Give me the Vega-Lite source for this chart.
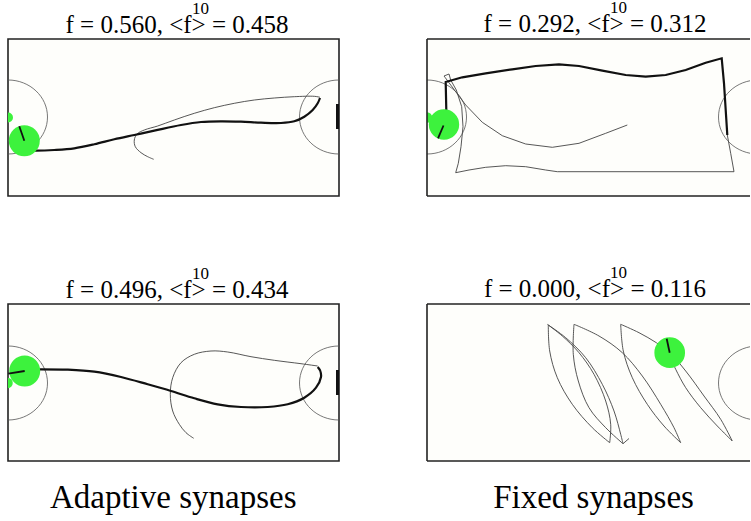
{
  "$schema": "https://vega.github.io/schema/vega-lite/v6.json",
  "padding": {"left": 6, "top": -2, "right": 0, "bottom": 0},
  "background": "white",
  "config": {
    "view": {"stroke": "#222", "strokeWidth": 1.6, "fill": "#fefefb"},
    "title": {"font": "Liberation Serif", "subtitleFont": "Liberation Serif", "color": "black", "subtitleColor": "black", "fontWeight": "normal", "subtitleFontWeight": "normal", "anchor": "middle"}
  },
  "datasets": {
    "arena": [
      {"p": "TL", "x": 0, "y": 78}, {"p": "TL", "x": 331, "y": 78},
      {"p": "TR", "x": 0, "y": 78}, {"p": "TR", "x": 331, "y": 78},
      {"p": "BL", "x": 0, "y": 79}, {"p": "BL", "x": 331, "y": 79},
      {"p": "BR", "x": 331, "y": 79}
    ],
    "agents": [
      {"p": "TL", "k": "big", "x": 16.3, "y": 101.7}, {"p": "TL", "k": "small", "x": 0, "y": 78.5},
      {"p": "TR", "k": "big", "x": 17, "y": 85.5}, {"p": "TR", "k": "small", "x": 0, "y": 78.5},
      {"p": "BL", "k": "big", "x": 16.7, "y": 67}, {"p": "BL", "k": "small", "x": -0.5, "y": 79},
      {"p": "BR", "k": "big", "x": 242.7, "y": 48.7}
    ],
    "heads": [
      {"p": "TL", "x": 11.3, "y": 87.3, "x2": 16.3, "y2": 101.7},
      {"p": "TR", "x": 11, "y": 99.3, "x2": 16.5, "y2": 86.5},
      {"p": "BL", "x": 0.3, "y": 69.7, "x2": 16.7, "y2": 67},
      {"p": "BR", "x": 239.7, "y": 34.7, "x2": 242.7, "y2": 48.7}
    ],
    "targets": [
      {"p": "TL", "x": 329.5, "y": 65, "y2": 90},
      {"p": "BL", "x": 329.5, "y": 66, "y2": 91}
    ],
    "paths": [
      {"p":"TL","t":"thick","x":18,"y":111.5},{"p":"TL","t":"thick","x":28,"y":111.7},{"p":"TL","t":"thick","x":46.3,"y":111},{"p":"TL","t":"thick","x":66.3,"y":109.3},{"p":"TL","t":"thick","x":86.3,"y":105.3},{"p":"TL","t":"thick","x":106.3,"y":100.3},{"p":"TL","t":"thick","x":126.3,"y":96},{"p":"TL","t":"thick","x":146.3,"y":91.7},{"p":"TL","t":"thick","x":173,"y":86},{"p":"TL","t":"thick","x":193,"y":83},{"p":"TL","t":"thick","x":213,"y":82.3},{"p":"TL","t":"thick","x":233,"y":82.7},{"p":"TL","t":"thick","x":253,"y":83.7},{"p":"TL","t":"thick","x":273,"y":84},{"p":"TL","t":"thick","x":286.3,"y":82.3},{"p":"TL","t":"thick","x":296.3,"y":77.7},{"p":"TL","t":"thick","x":304.7,"y":71},{"p":"TL","t":"thick","x":309.7,"y":64.3},{"p":"TL","t":"thick","x":312,"y":59},
      {"p":"TL","t":"thin","x":312,"y":58.3},{"p":"TL","t":"thin","x":306.3,"y":57.3},{"p":"TL","t":"thin","x":286.3,"y":57.7},{"p":"TL","t":"thin","x":266.3,"y":59},{"p":"TL","t":"thin","x":246.3,"y":61},{"p":"TL","t":"thin","x":226.3,"y":64.3},{"p":"TL","t":"thin","x":206.3,"y":68.7},{"p":"TL","t":"thin","x":186.3,"y":74.3},{"p":"TL","t":"thin","x":166.3,"y":81},{"p":"TL","t":"thin","x":149.7,"y":87},{"p":"TL","t":"thin","x":136.3,"y":91},{"p":"TL","t":"thin","x":129,"y":95},{"p":"TL","t":"thin","x":126.3,"y":101},{"p":"TL","t":"thin","x":127.3,"y":107.7},{"p":"TL","t":"thin","x":133,"y":113.7},{"p":"TL","t":"thin","x":139.7,"y":117.7},{"p":"TL","t":"thin","x":145.7,"y":120.3},
      {"p":"TR","t":"thick","x":19.3,"y":80},{"p":"TR","t":"thick","x":19.3,"y":71},{"p":"TR","t":"thick","x":18.7,"y":43},{"p":"TR","t":"thick","x":35.3,"y":38.3},{"p":"TR","t":"thick","x":58.7,"y":34.3},{"p":"TR","t":"thick","x":85.3,"y":30.3},{"p":"TR","t":"thick","x":108.7,"y":27},{"p":"TR","t":"thick","x":132,"y":25.3},{"p":"TR","t":"thick","x":152,"y":27},{"p":"TR","t":"thick","x":175.3,"y":31.7},{"p":"TR","t":"thick","x":198.7,"y":36},{"p":"TR","t":"thick","x":218.7,"y":37.7},{"p":"TR","t":"thick","x":238.7,"y":36},{"p":"TR","t":"thick","x":258.7,"y":31},{"p":"TR","t":"thick","x":278.7,"y":23.7},{"p":"TR","t":"thick","x":294.7,"y":19.3},{"p":"TR","t":"thick","x":297,"y":44.3},{"p":"TR","t":"thick","x":298.7,"y":71},{"p":"TR","t":"thick","x":300.3,"y":96},
      {"p":"TR","t":"thin","x":200.3,"y":86},{"p":"TR","t":"thin","x":178.7,"y":94.3},{"p":"TR","t":"thin","x":152,"y":104.3},{"p":"TR","t":"thin","x":125.3,"y":108.3},{"p":"TR","t":"thin","x":98.7,"y":105},{"p":"TR","t":"thin","x":75.3,"y":96.7},{"p":"TR","t":"thin","x":55.3,"y":83.3},{"p":"TR","t":"thin","x":38.7,"y":66},{"p":"TR","t":"thin","x":28.7,"y":52.7},{"p":"TR","t":"thin","x":22,"y":43.7},{"p":"TR","t":"thin","x":18,"y":38.3},{"p":"TR","t":"thin","x":17,"y":37},{"p":"TR","t":"thin","x":22,"y":35},{"p":"TR","t":"thin","x":23.7,"y":41},{"p":"TR","t":"thin","x":29.3,"y":51},{"p":"TR","t":"thin","x":34.7,"y":67.7},{"p":"TR","t":"thin","x":36,"y":87.7},{"p":"TR","t":"thin","x":34,"y":107.7},{"p":"TR","t":"thin","x":31.3,"y":124.3},{"p":"TR","t":"thin","x":28.7,"y":133.7},{"p":"TR","t":"thin","x":42,"y":131},{"p":"TR","t":"thin","x":58.7,"y":128.3},{"p":"TR","t":"thin","x":78.7,"y":126.7},{"p":"TR","t":"thin","x":98.7,"y":127.7},{"p":"TR","t":"thin","x":118.7,"y":131},{"p":"TR","t":"thin","x":130.3,"y":132.7},{"p":"TR","t":"thin","x":307,"y":132.7},{"p":"TR","t":"thin","x":303.7,"y":114.3},{"p":"TR","t":"thin","x":300.3,"y":96},
      {"p":"BL","t":"thick","x":20,"y":65.5},{"p":"BL","t":"thick","x":33,"y":65.3},{"p":"BL","t":"thick","x":59.7,"y":65.7},{"p":"BL","t":"thick","x":86.3,"y":67.7},{"p":"BL","t":"thick","x":113,"y":73},{"p":"BL","t":"thick","x":139.7,"y":80.3},{"p":"BL","t":"thick","x":163,"y":87},{"p":"BL","t":"thick","x":186.3,"y":94.3},{"p":"BL","t":"thick","x":209.7,"y":100.3},{"p":"BL","t":"thick","x":233,"y":103},{"p":"BL","t":"thick","x":259.7,"y":103},{"p":"BL","t":"thick","x":279.7,"y":100.3},{"p":"BL","t":"thick","x":296.3,"y":93.7},{"p":"BL","t":"thick","x":308,"y":83.7},{"p":"BL","t":"thick","x":313,"y":73},{"p":"BL","t":"thick","x":312.3,"y":67},{"p":"BL","t":"thick","x":309.7,"y":63},
      {"p":"BL","t":"thin","x":309.7,"y":62},{"p":"BL","t":"thin","x":293,"y":59.7},{"p":"BL","t":"thin","x":266.3,"y":56.3},{"p":"BL","t":"thin","x":243,"y":52.7},{"p":"BL","t":"thin","x":219.7,"y":48},{"p":"BL","t":"thin","x":203,"y":47},{"p":"BL","t":"thin","x":186.3,"y":50.3},{"p":"BL","t":"thin","x":173,"y":58.7},{"p":"BL","t":"thin","x":164.7,"y":73.7},{"p":"BL","t":"thin","x":162.3,"y":90.3},{"p":"BL","t":"thin","x":164.7,"y":107},{"p":"BL","t":"thin","x":171.3,"y":120.3},{"p":"BL","t":"thin","x":178,"y":128.7},{"p":"BL","t":"thin","x":185.7,"y":134.3}
    ],
    "lens": [
      {"s":"A","x":120.3,"y":20.3},{"s":"A","x":135.3,"y":32},{"s":"A","x":152,"y":48.7},{"s":"A","x":167,"y":70.3},{"s":"A","x":178.7,"y":97},{"s":"A","x":183.7,"y":120.3},{"s":"A","x":182.7,"y":138.7},
      {"s":"B","x":182.7,"y":138.7},{"s":"B","x":165.3,"y":123.7},{"s":"B","x":145.3,"y":100.3},{"s":"B","x":130.3,"y":73.7},{"s":"B","x":122.7,"y":47},{"s":"B","x":121.3,"y":21},
      {"s":"C","x":121.3,"y":21},{"s":"C","x":138.7,"y":33.7},{"s":"C","x":158.7,"y":53.7},{"s":"C","x":175.3,"y":80.3},{"s":"C","x":187,"y":107},{"s":"C","x":193.7,"y":130.3},{"s":"C","x":196,"y":139.7},
      {"s":"D","x":196,"y":139.7},{"s":"D","x":178.7,"y":123.7},{"s":"D","x":162,"y":103.7},{"s":"D","x":151.3,"y":77},{"s":"D","x":146.3,"y":50.3},{"s":"D","x":147,"y":20.3},
      {"s":"E","x":147,"y":20.3},{"s":"E","x":172,"y":32},{"s":"E","x":195.3,"y":48.7},{"s":"E","x":215.3,"y":72},{"s":"E","x":233.7,"y":100.3},{"s":"E","x":247,"y":123.7},{"s":"E","x":253.7,"y":138.7},
      {"s":"F","x":253.7,"y":138.7},{"s":"F","x":237,"y":122},{"s":"F","x":220.3,"y":100.3},{"s":"F","x":205.3,"y":73.7},{"s":"F","x":196.3,"y":47},{"s":"F","x":193.7,"y":20.3},
      {"s":"G","x":193.7,"y":20.3},{"s":"G","x":212,"y":28.7},{"s":"G","x":229.3,"y":38.7},{"s":"G","x":242.7,"y":48.7},{"s":"G","x":258.7,"y":67},{"s":"G","x":277,"y":92},{"s":"G","x":293.7,"y":115.3},{"s":"G","x":305.3,"y":137},
      {"s":"H","x":305.3,"y":137},{"s":"H","x":290.3,"y":122},{"s":"H","x":273.7,"y":103.7},{"s":"H","x":258.7,"y":83.7},{"s":"H","x":248.7,"y":65.3},{"s":"H","x":243.7,"y":54.3},
      {"s":"I","x":196,"y":139.7},{"s":"I","x":202,"y":134.5}
    ]
  },
  "spacing": 86,
  "hconcat": [
    {
      "spacing": 66,
      "title": {"text": "Adaptive synapses", "orient": "bottom", "font": "Liberation Serif", "fontSize": 33, "offset": 20},
      "vconcat": [
        {
          "width": 331, "height": 157,
          "title": {"text": "\u200b\u00a0\u00a0\u00a0\u00a0\u00a0\u00a0\u00a0\u00a0\u00a0\u00a0\u00a010", "subtitle": "f = 0.560, <f> = 0.458", "font": "Liberation Serif", "subtitleFont": "Liberation Serif", "fontSize": 17, "subtitleFontSize": 25, "subtitlePadding": -4.5, "offset": 0, "dx": 3.5},
          "layer": [
            {"data": {"name": "arena"}, "transform": [{"filter": "datum.p == 'TL'"}], "mark": {"type": "point", "shape": "M-1,0A1,0.937,0,1,1,1,0A1,0.937,0,1,1,-1,0Z", "size": 6241, "filled": false, "stroke": "#555", "strokeWidth": 0.8, "opacity": 1, "clip": true},
             "encoding": {"x": {"field": "x", "type": "quantitative", "axis": null, "scale": {"domain": [0, 331], "nice": false, "zero": false}}, "y": {"field": "y", "type": "quantitative", "axis": null, "scale": {"domain": [0, 157], "nice": false, "zero": false, "reverse": true}}}},
            {"data": {"name": "paths"}, "transform": [{"filter": "datum.p == 'TL' && datum.t == 'thin'"}], "mark": {"type": "line", "color": "#444", "strokeWidth": 0.9, "clip": true, "interpolate": "catmull-rom"},
             "encoding": {"x": {"field": "x", "type": "quantitative", "axis": null, "scale": {"domain": [0, 331], "nice": false, "zero": false}}, "y": {"field": "y", "type": "quantitative", "axis": null, "scale": {"domain": [0, 157], "nice": false, "zero": false, "reverse": true}}, "order": {"value": null}}},
            {"data": {"name": "paths"}, "transform": [{"filter": "datum.p == 'TL' && datum.t == 'thick'"}], "mark": {"type": "line", "color": "#111", "strokeWidth": 2.2, "clip": true, "interpolate": "catmull-rom"},
             "encoding": {"x": {"field": "x", "type": "quantitative", "axis": null, "scale": {"domain": [0, 331], "nice": false, "zero": false}}, "y": {"field": "y", "type": "quantitative", "axis": null, "scale": {"domain": [0, 157], "nice": false, "zero": false, "reverse": true}}, "order": {"value": null}}},
            {"data": {"name": "targets"}, "transform": [{"filter": "datum.p == 'TL'"}], "mark": {"type": "rule", "color": "#111", "strokeWidth": 3},
             "encoding": {"x": {"field": "x", "type": "quantitative", "axis": null, "scale": {"domain": [0, 331], "nice": false, "zero": false}}, "y": {"field": "y", "type": "quantitative", "axis": null, "scale": {"domain": [0, 157], "nice": false, "zero": false, "reverse": true}}, "y2": {"field": "y2"}}},
            {"data": {"name": "agents"}, "transform": [{"filter": "datum.p == 'TL' && datum.k == 'big'"}], "mark": {"type": "point", "shape": "circle", "filled": true, "size": 960, "color": "#3df23d", "opacity": 1, "clip": true},
             "encoding": {"x": {"field": "x", "type": "quantitative", "axis": null, "scale": {"domain": [0, 331], "nice": false, "zero": false}}, "y": {"field": "y", "type": "quantitative", "axis": null, "scale": {"domain": [0, 157], "nice": false, "zero": false, "reverse": true}}}},
            {"data": {"name": "agents"}, "transform": [{"filter": "datum.p == 'TL' && datum.k == 'small'"}], "mark": {"type": "point", "shape": "circle", "filled": true, "size": 100, "color": "#3df23d", "opacity": 1, "clip": true},
             "encoding": {"x": {"field": "x", "type": "quantitative", "axis": null, "scale": {"domain": [0, 331], "nice": false, "zero": false}}, "y": {"field": "y", "type": "quantitative", "axis": null, "scale": {"domain": [0, 157], "nice": false, "zero": false, "reverse": true}}}},
            {"data": {"name": "heads"}, "transform": [{"filter": "datum.p == 'TL'"}], "mark": {"type": "rule", "color": "#111", "strokeWidth": 1.8},
             "encoding": {"x": {"field": "x", "type": "quantitative", "axis": null, "scale": {"domain": [0, 331], "nice": false, "zero": false}}, "y": {"field": "y", "type": "quantitative", "axis": null, "scale": {"domain": [0, 157], "nice": false, "zero": false, "reverse": true}}, "x2": {"field": "x2"}, "y2": {"field": "y2"}}}
          ]
        },
        {
          "width": 331, "height": 157,
          "title": {"text": "\u200b\u00a0\u00a0\u00a0\u00a0\u00a0\u00a0\u00a0\u00a0\u00a0\u00a0\u00a010", "subtitle": "f = 0.496, <f> = 0.434", "font": "Liberation Serif", "subtitleFont": "Liberation Serif", "fontSize": 17, "subtitleFontSize": 25, "subtitlePadding": -4.5, "offset": 0, "dx": 3.5},
          "layer": [
            {"data": {"name": "arena"}, "transform": [{"filter": "datum.p == 'BL'"}], "mark": {"type": "point", "shape": "M-1,0A1,0.937,0,1,1,1,0A1,0.937,0,1,1,-1,0Z", "size": 6241, "filled": false, "stroke": "#555", "strokeWidth": 0.8, "opacity": 1, "clip": true},
             "encoding": {"x": {"field": "x", "type": "quantitative", "axis": null, "scale": {"domain": [0, 331], "nice": false, "zero": false}}, "y": {"field": "y", "type": "quantitative", "axis": null, "scale": {"domain": [0, 157], "nice": false, "zero": false, "reverse": true}}}},
            {"data": {"name": "paths"}, "transform": [{"filter": "datum.p == 'BL' && datum.t == 'thin'"}], "mark": {"type": "line", "color": "#444", "strokeWidth": 0.9, "clip": true, "interpolate": "catmull-rom"},
             "encoding": {"x": {"field": "x", "type": "quantitative", "axis": null, "scale": {"domain": [0, 331], "nice": false, "zero": false}}, "y": {"field": "y", "type": "quantitative", "axis": null, "scale": {"domain": [0, 157], "nice": false, "zero": false, "reverse": true}}, "order": {"value": null}}},
            {"data": {"name": "paths"}, "transform": [{"filter": "datum.p == 'BL' && datum.t == 'thick'"}], "mark": {"type": "line", "color": "#111", "strokeWidth": 2.2, "clip": true, "interpolate": "catmull-rom"},
             "encoding": {"x": {"field": "x", "type": "quantitative", "axis": null, "scale": {"domain": [0, 331], "nice": false, "zero": false}}, "y": {"field": "y", "type": "quantitative", "axis": null, "scale": {"domain": [0, 157], "nice": false, "zero": false, "reverse": true}}, "order": {"value": null}}},
            {"data": {"name": "targets"}, "transform": [{"filter": "datum.p == 'BL'"}], "mark": {"type": "rule", "color": "#111", "strokeWidth": 3},
             "encoding": {"x": {"field": "x", "type": "quantitative", "axis": null, "scale": {"domain": [0, 331], "nice": false, "zero": false}}, "y": {"field": "y", "type": "quantitative", "axis": null, "scale": {"domain": [0, 157], "nice": false, "zero": false, "reverse": true}}, "y2": {"field": "y2"}}},
            {"data": {"name": "agents"}, "transform": [{"filter": "datum.p == 'BL' && datum.k == 'big'"}], "mark": {"type": "point", "shape": "circle", "filled": true, "size": 960, "color": "#3df23d", "opacity": 1, "clip": true},
             "encoding": {"x": {"field": "x", "type": "quantitative", "axis": null, "scale": {"domain": [0, 331], "nice": false, "zero": false}}, "y": {"field": "y", "type": "quantitative", "axis": null, "scale": {"domain": [0, 157], "nice": false, "zero": false, "reverse": true}}}},
            {"data": {"name": "agents"}, "transform": [{"filter": "datum.p == 'BL' && datum.k == 'small'"}], "mark": {"type": "point", "shape": "circle", "filled": true, "size": 110, "color": "#3df23d", "opacity": 1, "clip": true},
             "encoding": {"x": {"field": "x", "type": "quantitative", "axis": null, "scale": {"domain": [0, 331], "nice": false, "zero": false}}, "y": {"field": "y", "type": "quantitative", "axis": null, "scale": {"domain": [0, 157], "nice": false, "zero": false, "reverse": true}}}},
            {"data": {"name": "heads"}, "transform": [{"filter": "datum.p == 'BL'"}], "mark": {"type": "rule", "color": "#111", "strokeWidth": 1.8},
             "encoding": {"x": {"field": "x", "type": "quantitative", "axis": null, "scale": {"domain": [0, 331], "nice": false, "zero": false}}, "y": {"field": "y", "type": "quantitative", "axis": null, "scale": {"domain": [0, 157], "nice": false, "zero": false, "reverse": true}}, "x2": {"field": "x2"}, "y2": {"field": "y2"}}}
          ]
        }
      ]
    },
    {
      "spacing": 66,
      "title": {"text": "Fixed synapses", "orient": "bottom", "font": "Liberation Serif", "fontSize": 33, "offset": 20, "dx": 5},
      "vconcat": [
        {
          "width": 323, "height": 157,
          "view": {"stroke": null},
          "title": {"text": "\u200b\u00a0\u00a0\u00a0\u00a0\u00a0\u00a0\u00a0\u00a0\u00a0\u00a0\u00a010", "subtitle": "f = 0.292, <f> = 0.312", "font": "Liberation Serif", "subtitleFont": "Liberation Serif", "fontSize": 17, "subtitleFontSize": 25, "subtitlePadding": -4.5, "offset": 0, "dx": 6.5},
          "layer": [
            {"data": {"name": "arena"}, "transform": [{"filter": "datum.p == 'TR'"}], "mark": {"type": "point", "shape": "M-1,0A1,0.937,0,1,1,1,0A1,0.937,0,1,1,-1,0Z", "size": 6241, "filled": false, "stroke": "#555", "strokeWidth": 0.8, "opacity": 1, "clip": true},
             "encoding": {"x": {"field": "x", "type": "quantitative", "axis": null, "scale": {"domain": [0, 323], "nice": false, "zero": false}}, "y": {"field": "y", "type": "quantitative", "axis": null, "scale": {"domain": [0, 157], "nice": false, "zero": false, "reverse": true}}}},
            {"data": {"name": "paths"}, "transform": [{"filter": "datum.p == 'TR' && datum.t == 'thin'"}], "mark": {"type": "line", "color": "#444", "strokeWidth": 0.9, "clip": true},
             "encoding": {"x": {"field": "x", "type": "quantitative", "axis": null, "scale": {"domain": [0, 323], "nice": false, "zero": false}}, "y": {"field": "y", "type": "quantitative", "axis": null, "scale": {"domain": [0, 157], "nice": false, "zero": false, "reverse": true}}, "order": {"value": null}}},
            {"data": {"name": "paths"}, "transform": [{"filter": "datum.p == 'TR' && datum.t == 'thick'"}], "mark": {"type": "line", "color": "#111", "strokeWidth": 2.2, "clip": true},
             "encoding": {"x": {"field": "x", "type": "quantitative", "axis": null, "scale": {"domain": [0, 323], "nice": false, "zero": false}}, "y": {"field": "y", "type": "quantitative", "axis": null, "scale": {"domain": [0, 157], "nice": false, "zero": false, "reverse": true}}, "order": {"value": null}}},
            {"data": {"name": "agents"}, "transform": [{"filter": "datum.p == 'TR' && datum.k == 'big'"}], "mark": {"type": "point", "shape": "circle", "filled": true, "size": 920, "color": "#3df23d", "opacity": 1, "clip": true},
             "encoding": {"x": {"field": "x", "type": "quantitative", "axis": null, "scale": {"domain": [0, 323], "nice": false, "zero": false}}, "y": {"field": "y", "type": "quantitative", "axis": null, "scale": {"domain": [0, 157], "nice": false, "zero": false, "reverse": true}}}},
            {"data": {"name": "agents"}, "transform": [{"filter": "datum.p == 'TR' && datum.k == 'small'"}], "mark": {"type": "point", "shape": "circle", "filled": true, "size": 110, "color": "#3df23d", "opacity": 1, "clip": true},
             "encoding": {"x": {"field": "x", "type": "quantitative", "axis": null, "scale": {"domain": [0, 323], "nice": false, "zero": false}}, "y": {"field": "y", "type": "quantitative", "axis": null, "scale": {"domain": [0, 157], "nice": false, "zero": false, "reverse": true}}}},
            {"data": {"name": "heads"}, "transform": [{"filter": "datum.p == 'TR'"}], "mark": {"type": "rule", "color": "#111", "strokeWidth": 1.8},
             "encoding": {"x": {"field": "x", "type": "quantitative", "axis": null, "scale": {"domain": [0, 323], "nice": false, "zero": false}}, "y": {"field": "y", "type": "quantitative", "axis": null, "scale": {"domain": [0, 157], "nice": false, "zero": false, "reverse": true}}, "x2": {"field": "x2"}, "y2": {"field": "y2"}}},
            {"data": {"values": [{}]}, "mark": {"type": "rule", "color": "#222", "strokeWidth": 1.6},
             "encoding": {"x": {"datum": 0, "type": "quantitative", "axis": null, "scale": {"domain": [0, 323], "nice": false, "zero": false}}}},
            {"data": {"values": [{}]}, "mark": {"type": "rule", "color": "#222", "strokeWidth": 1.6},
             "encoding": {"y": {"datum": 0, "type": "quantitative", "axis": null, "scale": {"domain": [0, 157], "nice": false, "zero": false, "reverse": true}}}},
            {"data": {"values": [{}]}, "mark": {"type": "rule", "color": "#222", "strokeWidth": 1.6},
             "encoding": {"y": {"datum": 157, "type": "quantitative", "axis": null, "scale": {"domain": [0, 157], "nice": false, "zero": false, "reverse": true}}}}
          ]
        },
        {
          "width": 323, "height": 157,
          "view": {"stroke": null},
          "title": {"text": "\u200b\u00a0\u00a0\u00a0\u00a0\u00a0\u00a0\u00a0\u00a0\u00a0\u00a0\u00a010", "subtitle": "f = 0.000, <f> = 0.116", "font": "Liberation Serif", "subtitleFont": "Liberation Serif", "fontSize": 17, "subtitleFontSize": 25, "subtitlePadding": -4.5, "offset": 0, "dx": 6.5},
          "layer": [
            {"data": {"name": "arena"}, "transform": [{"filter": "datum.p == 'BR'"}], "mark": {"type": "point", "shape": "M-1,0A1,0.937,0,1,1,1,0A1,0.937,0,1,1,-1,0Z", "size": 6241, "filled": false, "stroke": "#555", "strokeWidth": 0.8, "opacity": 1, "clip": true},
             "encoding": {"x": {"field": "x", "type": "quantitative", "axis": null, "scale": {"domain": [0, 323], "nice": false, "zero": false}}, "y": {"field": "y", "type": "quantitative", "axis": null, "scale": {"domain": [0, 157], "nice": false, "zero": false, "reverse": true}}}},
            {"data": {"name": "lens"}, "mark": {"type": "line", "color": "#444", "strokeWidth": 0.9, "clip": true, "interpolate": "catmull-rom"},
             "encoding": {"x": {"field": "x", "type": "quantitative", "axis": null, "scale": {"domain": [0, 323], "nice": false, "zero": false}}, "y": {"field": "y", "type": "quantitative", "axis": null, "scale": {"domain": [0, 157], "nice": false, "zero": false, "reverse": true}}, "detail": {"field": "s"}, "order": {"value": null}}},
            {"data": {"name": "agents"}, "transform": [{"filter": "datum.p == 'BR' && datum.k == 'big'"}], "mark": {"type": "point", "shape": "circle", "filled": true, "size": 940, "color": "#3df23d", "opacity": 1, "clip": true},
             "encoding": {"x": {"field": "x", "type": "quantitative", "axis": null, "scale": {"domain": [0, 323], "nice": false, "zero": false}}, "y": {"field": "y", "type": "quantitative", "axis": null, "scale": {"domain": [0, 157], "nice": false, "zero": false, "reverse": true}}}},
            {"data": {"name": "heads"}, "transform": [{"filter": "datum.p == 'BR'"}], "mark": {"type": "rule", "color": "#111", "strokeWidth": 1.8},
             "encoding": {"x": {"field": "x", "type": "quantitative", "axis": null, "scale": {"domain": [0, 323], "nice": false, "zero": false}}, "y": {"field": "y", "type": "quantitative", "axis": null, "scale": {"domain": [0, 157], "nice": false, "zero": false, "reverse": true}}, "x2": {"field": "x2"}, "y2": {"field": "y2"}}},
            {"data": {"values": [{}]}, "mark": {"type": "rule", "color": "#222", "strokeWidth": 1.6},
             "encoding": {"x": {"datum": 0, "type": "quantitative", "axis": null, "scale": {"domain": [0, 323], "nice": false, "zero": false}}}},
            {"data": {"values": [{}]}, "mark": {"type": "rule", "color": "#222", "strokeWidth": 1.6},
             "encoding": {"y": {"datum": 0, "type": "quantitative", "axis": null, "scale": {"domain": [0, 157], "nice": false, "zero": false, "reverse": true}}}},
            {"data": {"values": [{}]}, "mark": {"type": "rule", "color": "#222", "strokeWidth": 1.6},
             "encoding": {"y": {"datum": 157, "type": "quantitative", "axis": null, "scale": {"domain": [0, 157], "nice": false, "zero": false, "reverse": true}}}}
          ]
        }
      ]
    }
  ]
}
